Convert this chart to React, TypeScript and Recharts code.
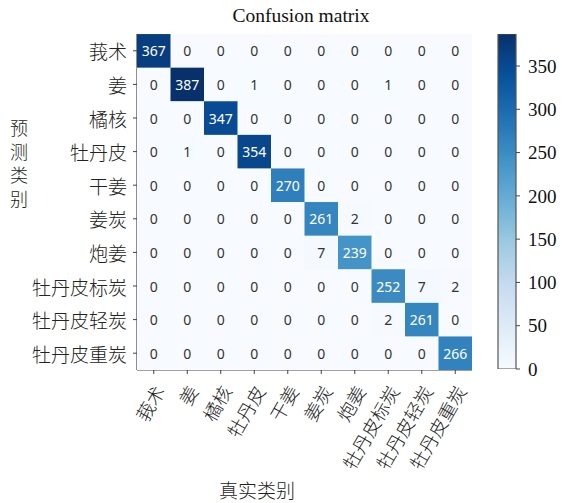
import React from 'react';
import { ScatterChart, Scatter, XAxis, YAxis, BarChart, Bar } from 'recharts';

// class names (same order for rows = predicted, cols = true)
const classes = ['莪术', '姜', '橘核', '牡丹皮', '干姜', '姜炭', '炮姜', '牡丹皮标炭', '牡丹皮轻炭', '牡丹皮重炭'];

const matrix = [
  [367, 0, 0, 0, 0, 0, 0, 0, 0, 0],
  [0, 387, 0, 1, 0, 0, 0, 1, 0, 0],
  [0, 0, 347, 0, 0, 0, 0, 0, 0, 0],
  [0, 1, 0, 354, 0, 0, 0, 0, 0, 0],
  [0, 0, 0, 0, 270, 0, 0, 0, 0, 0],
  [0, 0, 0, 0, 0, 261, 2, 0, 0, 0],
  [0, 0, 0, 0, 0, 7, 239, 0, 0, 0],
  [0, 0, 0, 0, 0, 0, 0, 252, 7, 2],
  [0, 0, 0, 0, 0, 0, 0, 2, 261, 0],
  [0, 0, 0, 0, 0, 0, 0, 0, 0, 266],
];

const colorbarTicks = [0, 50, 100, 150, 200, 250, 300, 350];

// matplotlib "Blues"
const blues = ['#f7fbff', '#deebf7', '#c6dbef', '#9ecae1', '#6baed6', '#4292c6', '#2171b5', '#08519c', '#08306b'];

const W = 562;
const H = 503;
const LEFT = 137;
const RIGHT_M = 90;
const TOP = 34;
const XAXIS_H = 133;
const CELL = (W - LEFT - RIGHT_M) / classes.length;

const maxVal = Math.max(...matrix.flat());
const thresh = maxVal / 2;

const hexToRgb = (h: string) => [1, 3, 5].map((i) => parseInt(h.slice(i, i + 2), 16));

const bluesColor = (t: number) => {
  const p = Math.min(Math.max(t, 0), 1) * (blues.length - 1);
  const i = Math.min(Math.floor(p), blues.length - 2);
  const f = p - i;
  const a = hexToRgb(blues[i]);
  const b = hexToRgb(blues[i + 1]);
  const c = a.map((v, k) => Math.round(v + (b[k] - v) * f));
  return `rgb(${c[0]},${c[1]},${c[2]})`;
};

const cells = matrix.flatMap((row, r) => row.map((value, c) => ({ x: c + 0.5, y: r + 0.5, value })));
const centers = classes.map((_, i) => i + 0.5);
const colorbarData = [{ name: 'cb', value: maxVal }];

const CJK = '"Noto Sans CJK SC", sans-serif';
const SERIF = '"Liberation Serif", "Times New Roman", serif';

const CellShape = (props: any) => {
  const { cx, cy, payload } = props;
  const v = payload.value;
  return (
    <g>
      <rect x={cx - CELL / 2} y={cy - CELL / 2} width={CELL + 0.5} height={CELL + 0.5} fill={bluesColor(v / maxVal)} />
      <text
        x={cx}
        y={cy}
        textAnchor="middle"
        dominantBaseline="central"
        fontFamily='"Noto Sans", sans-serif'
        fontSize={14}
        fill={v > thresh ? '#ffffff' : '#333333'}
      >
        {v}
      </text>
    </g>
  );
};

const YTick = (props: any) => {
  const { x, y, payload } = props;
  return (
    <text x={x} y={y} textAnchor="end" dominantBaseline="central" fontFamily={CJK} fontWeight={300} fontSize={19} fill="#222">
      {classes[Math.floor(payload.value)]}
    </text>
  );
};

const XTick = (props: any) => {
  const { x, y, payload } = props;
  return (
    <g transform={`translate(${x + 5},${y + 13}) rotate(-60)`}>
      <text x={0} y={0} textAnchor="end" dominantBaseline="central" fontFamily={CJK} fontWeight={300} fontSize={18.5} fill="#222">
        {classes[Math.floor(payload.value)]}
      </text>
    </g>
  );
};

const ylabelChars = ['预', '测', '类', '别'];

export default function App() {
  return (
    <div style={{ position: 'fixed', left: 0, top: 0, width: W, height: H, background: '#fff' }}>
      <div style={{ position: 'absolute', left: 0, top: 0 }}>
        <ScatterChart width={W} height={H} margin={{ top: TOP, right: RIGHT_M, bottom: 0, left: 0 }}>
          <XAxis
            type="number"
            dataKey="x"
            domain={[0, classes.length]}
            ticks={centers}
            interval={0}
            height={XAXIS_H}
            tickSize={4}
            tickMargin={0}
            tick={<XTick />}
            stroke="#444"
            axisLine={{ stroke: '#444', strokeWidth: 1.2 }}
            allowDataOverflow
          />
          <YAxis
            type="number"
            dataKey="y"
            domain={[0, classes.length]}
            ticks={centers}
            interval={0}
            reversed
            width={LEFT}
            tickSize={4}
            tickMargin={6}
            tick={<YTick />}
            stroke="#444"
            axisLine={{ stroke: '#444', strokeWidth: 1.2 }}
            allowDataOverflow
          />
          <XAxis xAxisId="top" orientation="top" height={0} tick={false} tickLine={false} axisLine={{ stroke: '#444', strokeWidth: 1.2 }} />
          <YAxis yAxisId="right" orientation="right" width={0} tick={false} tickLine={false} axisLine={{ stroke: '#444', strokeWidth: 1.2 }} />
          <Scatter data={cells} shape={<CellShape />} isAnimationActive={false} />
          <text x={301} y={22} textAnchor="middle" fontFamily={SERIF} fontSize={19.5} fill="#111">
            Confusion matrix
          </text>
          <text x={19} textAnchor="middle" fontFamily={CJK} fontWeight={300} fontSize={18} fill="#222">
            {ylabelChars.map((ch, i) => (
              <tspan key={ch} x={19} y={127 + i * 23.7} dominantBaseline="central">
                {ch}
              </tspan>
            ))}
          </text>
          <text x={257} y={489} textAnchor="middle" dominantBaseline="central" fontFamily={CJK} fontWeight={300} fontSize={19} fill="#222">
            真实类别
          </text>
        </ScatterChart>
      </div>
      <div style={{ position: 'absolute', left: 0, top: 0 }}>
        <BarChart width={W} height={H} data={colorbarData} margin={{ top: TOP, right: 0, bottom: 134, left: 498 }} barCategoryGap={0}>
          <defs>
            <linearGradient id="cbGrad" x1="0" y1="0" x2="0" y2="1">
              {blues
                .slice()
                .reverse()
                .map((c, i) => (
                  <stop key={c} offset={i / (blues.length - 1)} stopColor={c} />
                ))}
            </linearGradient>
          </defs>
          <XAxis dataKey="name" hide />
          <YAxis
            orientation="right"
            domain={[0, maxVal]}
            ticks={colorbarTicks}
            width={46}
            tickSize={4}
            tickMargin={8}
            axisLine={false}
            tickLine={{ stroke: '#444' }}
            tick={{ fontFamily: SERIF, fontSize: 19, fill: '#111' }}
            allowDataOverflow
          />
          <Bar dataKey="value" fill="url(#cbGrad)" stroke="#555" strokeWidth={1.2} isAnimationActive={false} />
        </BarChart>
      </div>
    </div>
  );
}
